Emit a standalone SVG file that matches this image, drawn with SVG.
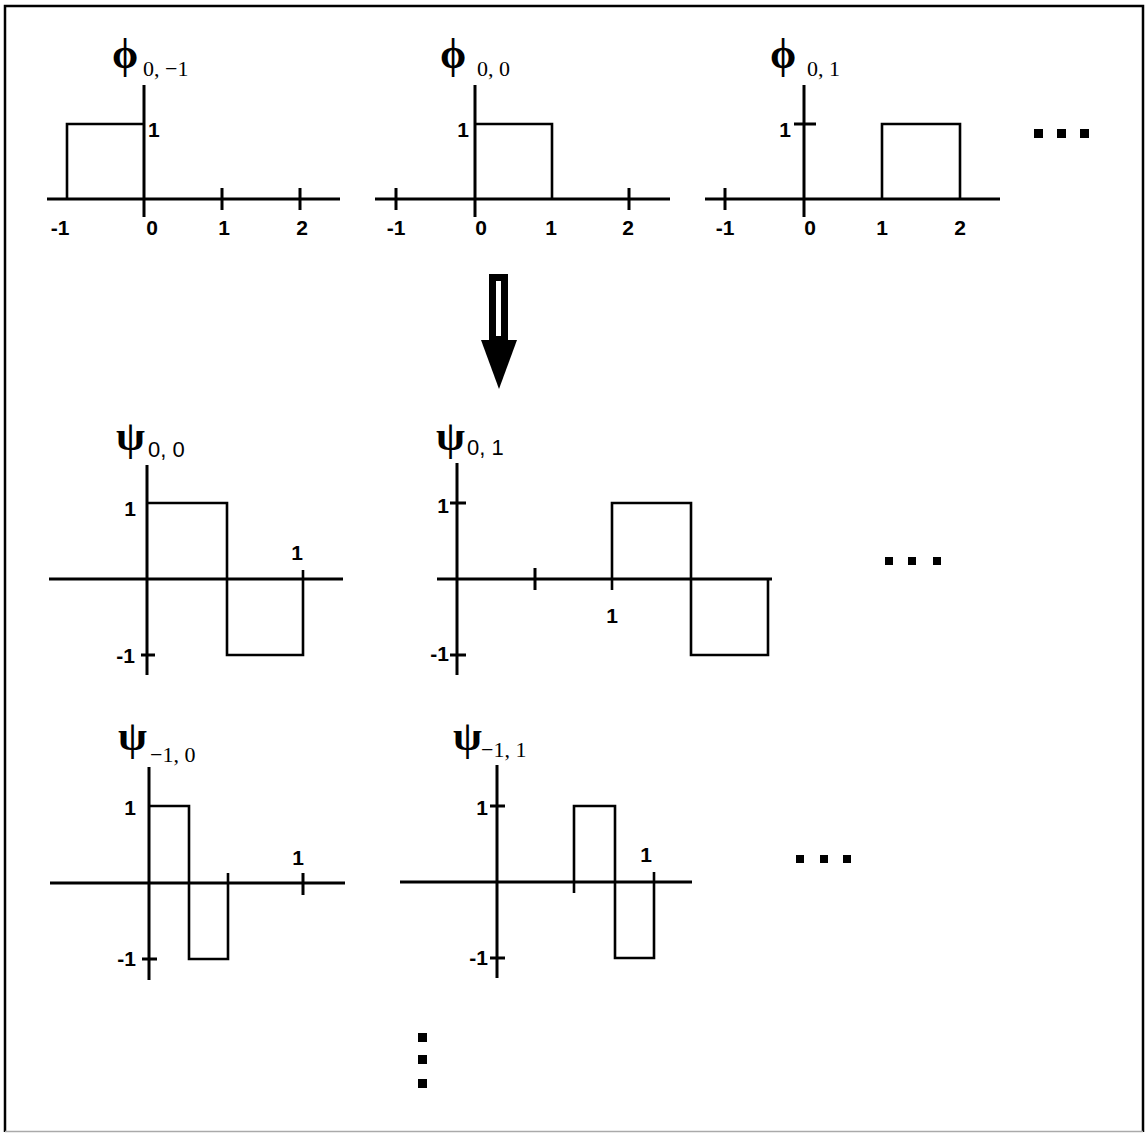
<svg xmlns="http://www.w3.org/2000/svg" width="1146" height="1133" viewBox="0 0 1146 1133">
<style>
.ax{fill:none;stroke:#000;stroke-width:3;stroke-linecap:butt}
.wv{fill:none;stroke:#000;stroke-width:2.6;stroke-linejoin:miter}
.tk{font-family:"Liberation Sans",Arial,sans-serif;font-size:21px;font-weight:bold;fill:#000}
.mid{text-anchor:middle}
.end{text-anchor:end}
.gr{font-family:"Liberation Serif","DejaVu Serif",serif;font-size:42px;font-weight:bold;fill:#000}
.sbs{font-family:"Liberation Serif","Times New Roman",serif;font-size:22px;fill:#000}
.sbn{font-family:"Liberation Sans",Arial,sans-serif;font-size:22px;fill:#000}
.dot{fill:#000}
</style>
<rect width="1146" height="1133" fill="#fff"/>
<g id="frame">
<path d="M5 1132 V6 H1143 V1132" fill="none" stroke="#000" stroke-width="2.5"/>
<path d="M5 1131.5 H1143" fill="none" stroke="#aaa" stroke-width="1.5"/>
</g>

<g id="phi_0_m1">
<path class="ax" d="M47 199 H340 M144 85 V217 M222 188 V210 M300 188 V210"/>
<path class="wv" d="M67 199 V124 H144"/>
<text class="gr" x="112" y="68">ϕ</text>
<text class="sbs" x="143" y="76">0, −1</text>
<text class="tk" x="148" y="137">1</text>
<text class="tk mid" x="60" y="235">-1</text>
<text class="tk mid" x="152" y="235">0</text>
<text class="tk mid" x="224" y="235">1</text>
<text class="tk mid" x="302" y="235">2</text>
</g>

<g id="phi_0_0">
<path class="ax" d="M375 199 H670 M475 85 V217 M396 188 V210 M629 188 V210"/>
<path class="wv" d="M475 124 H552 V199"/>
<text class="gr" x="440" y="68">ϕ</text>
<text class="sbs" x="477" y="76">0, 0</text>
<text class="tk end" x="469" y="137">1</text>
<text class="tk mid" x="396" y="235">-1</text>
<text class="tk mid" x="481" y="235">0</text>
<text class="tk mid" x="551" y="235">1</text>
<text class="tk mid" x="628" y="235">2</text>
</g>

<g id="phi_0_1">
<path class="ax" d="M705 199 H1000 M804 85 V217 M794 124 H816 M725 188 V210"/>
<path class="wv" d="M882 199 V124 H960 V199"/>
<text class="gr" x="770" y="68">ϕ</text>
<text class="sbs" x="807" y="76">0, 1</text>
<text class="tk end" x="791" y="137">1</text>
<text class="tk mid" x="725" y="235">-1</text>
<text class="tk mid" x="810" y="235">0</text>
<text class="tk mid" x="882" y="235">1</text>
<text class="tk mid" x="960" y="235">2</text>
<rect class="dot" x="1034" y="129" width="9" height="9"/>
<rect class="dot" x="1057" y="129" width="9" height="9"/>
<rect class="dot" x="1080" y="129" width="9" height="9"/>
</g>

<g id="connectors">
<rect x="492.5" y="277.5" width="12" height="62" fill="#fff" stroke="#000" stroke-width="7"/>
<polygon points="481,340 517,340 499,389" fill="#000"/>
</g>

<g id="psi_0_0">
<path class="ax" d="M49 579 H343 M147 465 V675 M141 655 H155"/>
<path class="wv" d="M147 503 H227 V655 H303 V570"/>
<text class="gr" x="116" y="450">ψ</text>
<text class="sbn" x="148" y="457">0, 0</text>
<text class="tk end" x="136" y="516">1</text>
<text class="tk end" x="135" y="663">-1</text>
<text class="tk mid" x="297" y="560">1</text>
</g>

<g id="psi_0_1">
<path class="ax" d="M437 579 H772 M457 463 V675 M450 503 H466 M450 655 H466 M535 568 V590"/>
<path class="wv" d="M612 590 V503 H691 V655 H768 V579"/>
<text class="gr" x="436" y="450">ψ</text>
<text class="sbn" x="467" y="455">0, 1</text>
<text class="tk end" x="449" y="513">1</text>
<text class="tk end" x="449" y="661">-1</text>
<text class="tk mid" x="612" y="623">1</text>
<rect class="dot" x="885" y="557" width="8" height="8"/>
<rect class="dot" x="908" y="557" width="8" height="8"/>
<rect class="dot" x="933" y="557" width="8" height="8"/>
</g>

<g id="psi_m1_0">
<path class="ax" d="M50 883 H345 M149 767 V980 M142 959 H157 M303 873 V895"/>
<path class="wv" d="M149 806 H189 V959 H228 V873"/>
<text class="gr" x="118" y="750">ψ</text>
<text class="sbs" x="150" y="762">−1, 0</text>
<text class="tk end" x="136" y="815">1</text>
<text class="tk end" x="136" y="966">-1</text>
<text class="tk mid" x="298" y="865">1</text>
</g>

<g id="psi_m1_1">
<path class="ax" d="M400 882 H692 M497 765 V978 M490 806 H505 M490 958 H505"/>
<path class="wv" d="M574 893 V806 H615 V958 H654 V872"/>
<text class="gr" x="453" y="750">ψ</text>
<text class="sbs" x="481" y="757">−1, 1</text>
<text class="tk end" x="488" y="815">1</text>
<text class="tk end" x="488" y="965">-1</text>
<text class="tk mid" x="646" y="862">1</text>
<rect class="dot" x="796" y="855" width="8" height="8"/>
<rect class="dot" x="820" y="855" width="8" height="8"/>
<rect class="dot" x="843" y="855" width="8" height="8"/>
</g>

<g id="vdots">
<rect class="dot" x="418" y="1033" width="9" height="9"/>
<rect class="dot" x="418" y="1055" width="9" height="9"/>
<rect class="dot" x="418" y="1079" width="9" height="9"/>
</g>
</svg>
